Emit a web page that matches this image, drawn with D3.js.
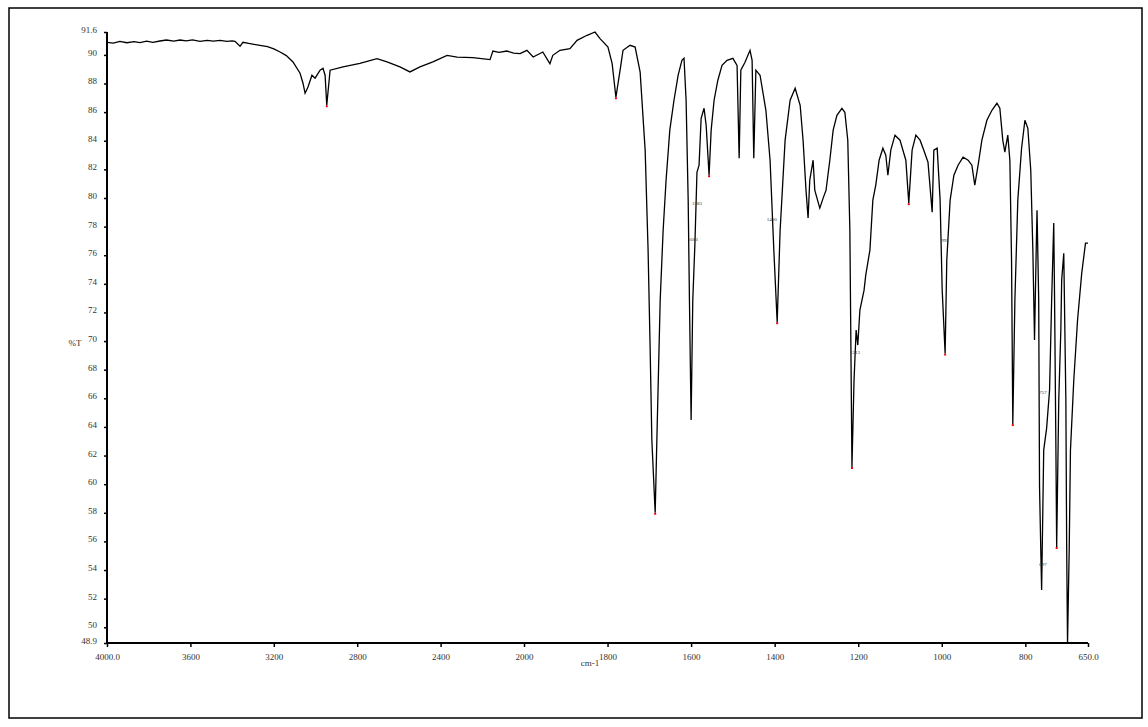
<!DOCTYPE html>
<html>
<head>
<meta charset="utf-8">
<script src="https://cdn.jsdelivr.net/npm/d3@7"></script>
<style>
  body { margin: 0; background: #fff; }
  svg text { font-family: "Liberation Serif", "DejaVu Serif", serif; fill: #333; }
</style>
</head>
<body>
<svg id="chart" width="1148" height="727"></svg>
<script>
// spectrum: wavenumber (cm-1) and %T
const wavenumbers = [
  4000, 3970, 3938, 3905, 3870, 3842, 3810, 3780, 3746, 3715, 3680, 3650, 3620, 3590, 3554, 3520,
  3490, 3458, 3425, 3400, 3386, 3362, 3348, 3320, 3295, 3266, 3230, 3200, 3170, 3140, 3108, 3074,
  3060, 3050,
  3036, 3017, 3002, 2978, 2964, 2954, 2946, 2930, 2868, 2787, 2705, 2657, 2595, 2547, 2499, 2437,
  2369, 2321, 2245, 2163, 2149, 2120, 2082, 2050, 2019, 1993, 1978, 1955, 1938, 1931, 1914, 1890, 1873, 1849,
  1830, 1818, 1799, 1789, 1780, 1770, 1763, 1746, 1734, 1722, 1710, 1703, 1698, 1694, 1686, 1682,
  1674, 1667, 1660, 1651, 1641, 1631, 1622, 1617, 1612, 1607, 1604, 1600, 1596, 1591, 1586, 1581,
  1576, 1569, 1564, 1557, 1552, 1545, 1536, 1526, 1514, 1500, 1490, 1485, 1481, 1471, 1459, 1454,
  1450, 1445, 1435, 1421, 1411, 1402, 1394, 1387, 1375, 1363, 1351, 1339, 1332, 1325, 1320, 1316,
  1308, 1304, 1292, 1284, 1277, 1268, 1260, 1251, 1239, 1232, 1225, 1220, 1215, 1210, 1205, 1201,
  1196, 1186, 1182, 1172, 1165, 1158, 1150, 1141, 1134, 1129, 1122, 1112, 1100, 1093, 1086, 1079,
  1071, 1062, 1052, 1043, 1033, 1023, 1019, 1011, 1004, 999, 992, 988, 980, 971, 961, 949,
  937, 928, 921, 913, 904, 892, 880, 868, 861, 854, 849, 842, 837, 833, 830, 825,
  818, 809, 801, 794, 787, 782, 778, 774, 772, 768, 766, 763, 761, 756, 749, 742,
  737, 732, 730, 727, 725, 720, 715, 713, 708, 703, 701, 699, 695, 692, 684, 675,
  665, 656, 650
];
const transmittance = [
  90.88, 90.82, 90.95, 90.85, 90.92, 90.86, 90.96, 90.88, 90.97, 91.04, 90.96, 91.04, 90.98, 91.05, 90.95, 91.02,
  90.96, 91.02, 90.94, 90.98, 90.95, 90.60, 90.88, 90.80, 90.74, 90.67, 90.58, 90.42, 90.20, 89.95, 89.51, 88.72,
  88.02, 87.32,
  87.76, 88.58, 88.37, 88.93, 89.07, 88.58, 86.48, 88.93, 89.16, 89.41, 89.74, 89.51, 89.16, 88.81, 89.16, 89.51,
  89.97, 89.85, 89.81, 89.67, 90.27, 90.18, 90.27, 90.12, 90.09, 90.32, 89.85, 90.20, 89.39, 89.97, 90.32, 90.44, 91.02, 91.37,
  91.60, 91.14, 90.55, 89.39, 87.04, 88.93, 90.32, 90.67, 90.55, 88.79, 83.34, 76.36, 69.38, 63.09, 58.00, 63.09,
  72.87, 77.71, 81.20, 84.74, 86.83, 88.58, 89.62, 89.76, 86.83, 79.85, 72.87, 64.49, 72.87, 76.71, 81.80, 82.29,
  85.57, 86.27, 85.08, 81.59, 84.74, 86.83, 88.23, 89.27, 89.62, 89.76, 89.27, 82.78, 88.93, 89.48, 90.32, 89.62,
  82.78, 88.93, 88.58, 86.13, 82.64, 76.36, 71.32, 77.71, 84.04, 86.83, 87.67, 86.48, 84.04, 80.55, 78.60, 81.24,
  82.64, 80.55, 79.29, 79.99, 80.55, 82.64, 84.74, 85.78, 86.27, 85.99, 84.04, 77.75, 61.20, 67.28, 70.77, 69.72,
  72.17, 73.56, 74.61, 76.36, 79.85, 80.90, 82.64, 83.48, 82.99, 81.59, 83.34, 84.39, 84.04, 83.34, 82.64, 79.64,
  83.34, 84.39, 84.04, 83.34, 82.50, 79.01, 83.34, 83.48, 79.85, 73.56, 69.13, 75.66, 79.85, 81.59, 82.29, 82.85,
  82.64, 82.29, 80.90, 82.29, 84.04, 85.43, 86.13, 86.62, 86.27, 84.04, 83.20, 84.39, 82.64, 75.66, 64.20, 72.87,
  79.85, 83.48, 85.43, 84.87, 81.94, 76.36, 70.07, 76.36, 79.15, 72.87, 59.80, 55.40, 52.61, 62.38, 63.92, 66.57,
  72.87, 78.25, 72.87, 63.09, 55.61, 65.87, 70.77, 74.26, 76.13, 65.87, 55.40, 48.91, 55.40, 62.38, 67.28, 71.47,
  74.75, 76.85, 76.85
];

// minima flagged with a red mark
const peakMarks = [2946, 1780, 1686, 1557, 1394, 1215, 1079, 992, 830, 725];
// tiny peak labels printed beside some bands
const peakLabels = ["1583", "1600", "1400", "1213", "995", "757", "697"];
const peakLabelWn = [1586, 1596, 1407, 1208, 992, 758, 758];
const peakLabelT = [79.5, 77.0, 78.4, 69.1, 76.9, 66.3, 54.3];

const xTicks = [4000, 3600, 3200, 2800, 2400, 2000, 1800, 1600, 1400, 1200, 1000, 800, 650];
const xTickLabels = ["4000.0", "3600", "3200", "2800", "2400", "2000", "1800", "1600", "1400", "1200", "1000", "800", "650.0"];
const yTicks = [48.9, 50, 52, 54, 56, 58, 60, 62, 64, 66, 68, 70, 72, 74, 76, 78, 80, 82, 84, 86, 88, 90, 91.6];
const yTickLabels = ["48.9", "50", "52", "54", "56", "58", "60", "62", "64", "66", "68", "70", "72", "74", "76", "78", "80", "82", "84", "86", "88", "90", "91.6"];

const svg = d3.select('#chart');

// outer frame
svg.append('rect')
  .attr('x', 9).attr('y', 8).attr('width', 1133).attr('height', 710)
  .attr('fill', 'none').attr('stroke', '#000').attr('stroke-width', 1.5);

// x scale expands below 2000 cm-1
const x = d3.scaleLinear().domain([4000, 2000, 650]).range([107, 524, 1088]);
const y = d3.scaleLinear().domain([48.9, 91.6]).range([643, 32]);

const xAxis = d3.axisBottom(x)
  .tickValues(xTicks)
  .tickSize(4)
  .tickFormat((d, i) => xTickLabels[i]);
const gx = svg.append('g').attr('transform', 'translate(0,643)').call(xAxis);
gx.select('.domain').attr('stroke-width', 2).attr('d', 'M107,0H1088');
gx.selectAll('.tick line').attr('stroke-width', 1.5);
gx.selectAll('.tick text').attr('font-size', 9).attr('dy', '1.1em');

const yAxis = d3.axisLeft(y)
  .tickValues(yTicks)
  .tickSize(3)
  .tickFormat((d, i) => yTickLabels[i]);
const gy = svg.append('g').attr('transform', 'translate(107,0)').call(yAxis);
gy.select('.domain').attr('stroke-width', 2).attr('d', 'M0,32V643');
gy.selectAll('.tick line').attr('stroke-width', 1.5);
gy.selectAll('.tick text').attr('font-size', 9).attr('x', -10).attr('dy', '0.05em');

svg.append('text').attr('x', 590).attr('y', 666).attr('text-anchor', 'middle')
  .attr('font-size', 9).text('cm-1');
svg.append('text').attr('x', 75).attr('y', 346).attr('text-anchor', 'middle')
  .attr('font-size', 9).text('%T');

// spectrum
const points = wavenumbers.map((w, i) => [w, transmittance[i]]);
const line = d3.line().x(d => x(d[0])).y(d => y(d[1]));
svg.append('path')
  .datum(points)
  .attr('d', line)
  .attr('fill', 'none')
  .attr('stroke', '#000')
  .attr('stroke-width', 1.3)
  .attr('stroke-linejoin', 'miter');

// red minimum marks
svg.selectAll('.mark')
  .data(peakMarks)
  .join('rect')
  .attr('class', 'mark')
  .attr('x', d => x(d) - 1)
  .attr('y', d => y(transmittance[wavenumbers.indexOf(d)]))
  .attr('width', 2).attr('height', 2)
  .attr('fill', '#e00');

// tiny peak labels
svg.selectAll('.plabel')
  .data(peakLabels)
  .join('text')
  .attr('class', 'plabel')
  .attr('x', (d, i) => x(peakLabelWn[i]))
  .attr('y', (d, i) => y(peakLabelT[i]))
  .attr('text-anchor', 'middle')
  .attr('font-size', 5)
  .attr('fill', '#445')
  .text(d => d);
</script>
</body>
</html>
